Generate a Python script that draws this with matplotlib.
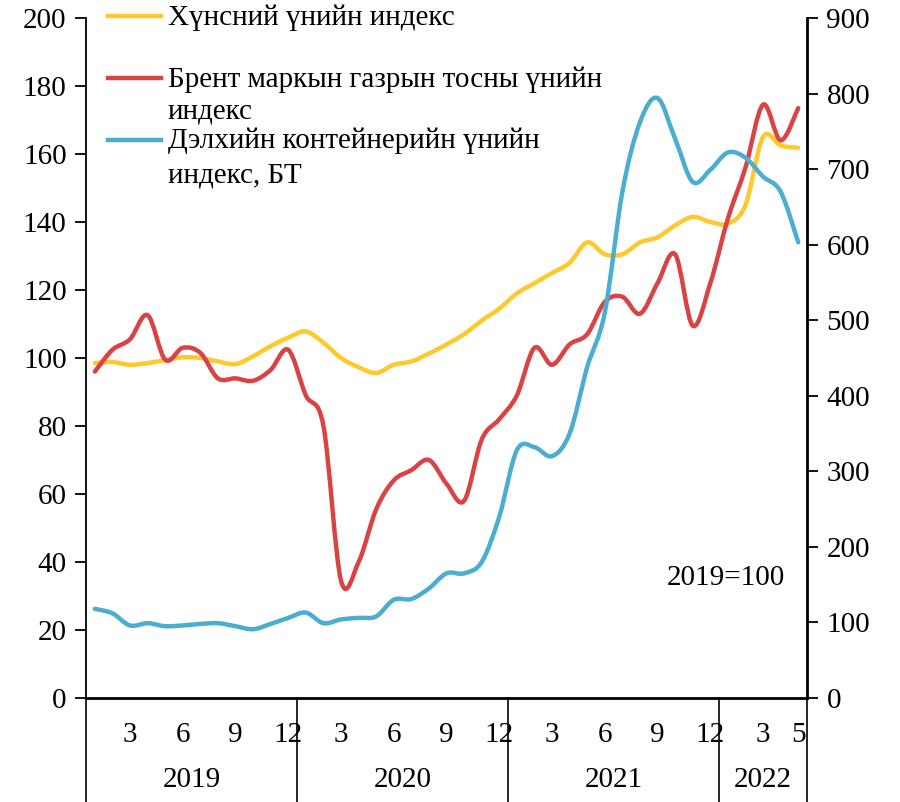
import numpy as np
import matplotlib
matplotlib.use("Agg")
import matplotlib.pyplot as plt
from matplotlib.path import Path
from matplotlib.patches import PathPatch

plt.rcParams['font.family'] = ['Liberation Serif', 'DejaVu Serif']

# --- data (monthly, 2019.01 - 2022.05) ---
food_idx = [98.5, 98.8, 98.0, 98.5, 99.4, 100.2, 100.0, 99.0, 98.2, 100.5, 103.5, 106.0,
            107.8, 104.5, 100.0, 97.3, 95.6, 98.0, 99.0, 101.3, 104.0, 107.0, 111.0, 114.5,
            119.0, 122.0, 125.0, 128.0, 134.0, 130.5, 130.5, 134.0, 135.5, 139.0, 141.5, 140.0,
            139.5, 145.0, 165.0, 162.5, 161.8]
brent_idx = [96.0, 102.4, 105.5, 112.6, 99.5, 103.0, 101.5, 94.0, 94.0, 93.3, 96.5, 102.4,
             89.0, 80.0, 34.5, 40.0, 55.5, 64.0, 67.0, 70.0, 63.0, 58.0, 76.0, 82.0,
             89.0, 103.0, 98.0, 104.0, 107.0, 116.5, 118.0, 113.0, 122.0, 130.5, 109.5, 122.0,
             141.0, 156.0, 174.5, 164.0, 173.5]
container_idx = [118, 112, 96, 99, 95, 96, 98, 99, 95, 91, 98, 106,
                 113, 99, 104, 106, 108, 130, 131, 145, 165, 165, 180, 240,
                 328, 332, 320, 350, 438, 510, 670, 762, 794, 740, 683, 699,
                 722, 715, 690, 670, 603]

month_ticks = [2, 5, 8, 11, 14, 17, 20, 23, 26, 29, 32, 35, 38, 40]
month_labels = ['3', '6', '9', '12', '3', '6', '9', '12', '3', '6', '9', '12', '3', '5']
years = ['2019', '2020', '2021', '2022']
year_bounds = [0, 12, 24, 36, 41]

labels = ['Хүнсний үнийн индекс',
          'Брент маркын газрын тосны үнийн\nиндекс',
          'Дэлхийн контейнерийн үнийн\nиндекс, БТ']
colors = ['#FFC92E', '#DA4343', '#4BAED0']

FS = 21


def smooth_patch(x, y, color, lw=3.2):
    # excel-like smoothed line drawn as bezier segments through the data points
    n = len(x)
    verts = [(x[0], y[0])]
    codes = [Path.MOVETO]
    for i in range(n - 1):
        a = max(i - 1, 0)
        b = min(i + 2, n - 1)
        c1 = (x[i] + (x[i + 1] - x[a]) / 6, y[i] + (y[i + 1] - y[a]) / 6)
        c2 = (x[i + 1] - (x[b] - x[i]) / 6, y[i + 1] - (y[b] - y[i]) / 6)
        verts += [c1, c2, (x[i + 1], y[i + 1])]
        codes += [Path.CURVE4] * 3
    return PathPatch(Path(verts, codes), facecolor='none', edgecolor=color, lw=lw,
                     capstyle='round', joinstyle='round')


fig = plt.figure(figsize=(9, 8.02), dpi=100)
ax = fig.add_axes([0.0956, 0.1297, 0.8011, 0.8479])
ax2 = ax.twinx()

xs = np.arange(len(food_idx)) + 0.5
ax.add_patch(smooth_patch(xs, np.array(food_idx, float), colors[0]))
ax.add_patch(smooth_patch(xs, np.array(brent_idx, float), colors[1]))
ax2.add_patch(smooth_patch(xs, np.array(container_idx, float), colors[2]))

ax.set_xlim(0, 41)
ax.set_ylim(0, 200)
ax2.set_ylim(0, 900)
ax.set_yticks(range(0, 201, 20))
ax2.set_yticks(range(0, 901, 100))

for a in (ax, ax2):
    a.spines['top'].set_visible(False)
    a.tick_params(axis='y', direction='out', length=8, width=1.3, labelsize=FS, pad=6)
ax.spines['left'].set_linewidth(1.3)
ax2.spines['right'].set_linewidth(2)
ax2.spines['left'].set_visible(False)
ax.spines['right'].set_visible(False)
ax2.spines['bottom'].set_visible(False)
ax.spines['bottom'].set_linewidth(2)

ax.set_xticks([m + 0.5 for m in month_ticks])
ax.set_xticklabels(month_labels, fontsize=FS)
ax.tick_params(axis='x', length=0, pad=17)

# year separators and labels
trans = ax.get_xaxis_transform()
for xb in year_bounds:
    ax.plot([xb, xb], [0, -0.153], color='black', lw=1.2, transform=trans, clip_on=False)
for i, yr in enumerate(years):
    xc = (year_bounds[i] + year_bounds[i + 1]) / 2
    ax.text(xc, -0.121, yr, transform=trans, ha='center', va='center', fontsize=FS)

ax.text(39.75, 35.3, '2019=100', ha='right', va='center', fontsize=FS)

# legend drawn by hand, excel-style layout
W, H = 900, 802
entries = [(16, [18]), (78, [80, 112]), (140, [141, 175])]
for (ly, ty), lab, col in zip(entries, labels, colors):
    fig.add_artist(plt.Line2D([108 / W, 161 / W], [1 - ly / H, 1 - ly / H],
                              color=col, lw=3.2, transform=fig.transFigure))
    for line, yy in zip(lab.split('\n'), ty):
        fig.text(168 / W, 1 - yy / H, line, ha='left', va='center', fontsize=FS)

fig.savefig('out.png', dpi=100)
